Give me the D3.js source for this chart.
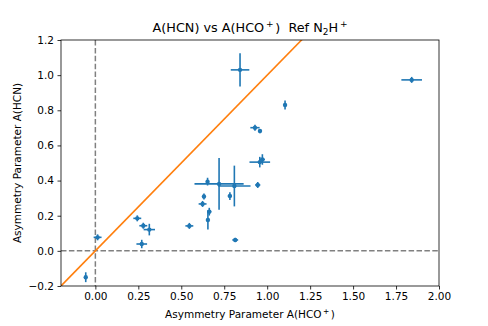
<!DOCTYPE html>
<html>
<head>
<meta charset="utf-8">
<script src="https://cdn.jsdelivr.net/npm/d3@7"></script>
<style>
  body { margin: 0; background: #fff; }
  text { font-family: "DejaVu Sans", sans-serif; fill: #000; white-space: pre; }
</style>
</head>
<body>
<div id="chartspace"></div>
<script>
// A(HCO+) values and errors
var ax = [0.013, -0.056, 0.27, 0.244, 0.279, 0.314, 0.547, 0.624, 0.632, 0.663, 0.655, 0.653,
          0.72, 0.809, 0.783, 0.814, 0.945, 0.957, 0.972, 0.842, 1.104, 0.929, 0.958, 1.841];
var axErr = [0.023, 0.006, 0.031, 0.023, 0.023, 0.033, 0.023, 0.023, 0.01, 0.012, 0.006, 0.008,
             0.143, 0.094, 0.012, 0.017, 0.015, 0.06, 0.015, 0.054, 0.008, 0.027, 0.01, 0.06];
// A(HCN) values and errors
var ay = [0.077, -0.15, 0.039, 0.185, 0.143, 0.121, 0.142, 0.267, 0.309, 0.223, 0.176, 0.394,
          0.381, 0.369, 0.312, 0.062, 0.375, 0.505, 0.52, 1.03, 0.83, 0.701, 0.682, 0.973];
var ayErr = [0.017, 0.028, 0.024, 0.017, 0.017, 0.033, 0.017, 0.017, 0.017, 0.022, 0.055, 0.022,
             0.147, 0.116, 0.022, 0.012, 0.017, 0.03, 0.03, 0.095, 0.025, 0.017, 0.012, 0.017];

var xTicks = [0, 0.25, 0.5, 0.75, 1.0, 1.25, 1.5, 1.75, 2.0];
var yTicks = [-0.2, 0, 0.2, 0.4, 0.6, 0.8, 1.0, 1.2];

var data = ax.map(function (d, i) {
    return { x: d, y: ay[i], xe: axErr[i], ye: ayErr[i] };
});

var W = 488, H = 326;
var margin = { top: 40, right: 49, bottom: 40, left: 61 },
    width = W - margin.left - margin.right,
    height = H - margin.top - margin.bottom;

var x = d3.scaleLinear().domain([-0.2, 2.0]).range([0, width]);
var y = d3.scaleLinear().domain([-0.2, 1.2]).range([height, 0]);

var blue = "#1f77b4", orange = "#ff7f0e";
var minus = function (s) { return s.replace("-", "\u2212"); };

var svg = d3.select("#chartspace").append("svg")
    .attr("width", W)
    .attr("height", H);

svg.append("defs").append("clipPath").attr("id", "clip")
    .append("rect").attr("width", width).attr("height", height);

var g = svg.append("g")
    .attr("transform", "translate(" + margin.left + "," + margin.top + ")");

var plot = g.append("g").attr("clip-path", "url(#clip)");

// reference lines at zero
plot.append("line")
    .attr("x1", x(0)).attr("x2", x(0))
    .attr("y1", 0).attr("y2", height)
    .attr("stroke", "#808080").attr("stroke-width", 1.5)
    .attr("stroke-dasharray", "5.5,2.4");
plot.append("line")
    .attr("x1", 0).attr("x2", width)
    .attr("y1", y(0)).attr("y2", y(0))
    .attr("stroke", "#808080").attr("stroke-width", 1.5)
    .attr("stroke-dasharray", "5.5,2.4");

// error bars
var pts = plot.selectAll(".pt").data(data).enter().append("g").attr("class", "pt");
pts.append("line")
    .attr("x1", function (d) { return x(d.x - d.xe); })
    .attr("x2", function (d) { return x(d.x + d.xe); })
    .attr("y1", function (d) { return y(d.y); })
    .attr("y2", function (d) { return y(d.y); })
    .attr("stroke", blue).attr("stroke-width", 1.6);
pts.append("line")
    .attr("x1", function (d) { return x(d.x); })
    .attr("x2", function (d) { return x(d.x); })
    .attr("y1", function (d) { return y(d.y - d.ye); })
    .attr("y2", function (d) { return y(d.y + d.ye); })
    .attr("stroke", blue).attr("stroke-width", 1.6);
pts.append("circle")
    .attr("cx", function (d) { return x(d.x); })
    .attr("cy", function (d) { return y(d.y); })
    .attr("r", 2.2)
    .attr("fill", blue);

// one-to-one line
plot.append("line")
    .attr("x1", x(-0.2)).attr("y1", y(-0.2))
    .attr("x2", x(1.4)).attr("y2", y(1.4))
    .attr("stroke", orange).attr("stroke-width", 1.6);

// axes
var xAxis = g.append("g")
    .attr("transform", "translate(0," + height + ")")
    .call(d3.axisBottom(x).tickValues(xTicks).tickFormat(function (d) { return minus(d3.format(".2f")(d)); })
        .tickSizeInner(3.5).tickSizeOuter(0).tickPadding(3.5));
var yAxis = g.append("g")
    .call(d3.axisLeft(y).tickValues(yTicks).tickFormat(function (d) { return minus(d3.format(".1f")(d)); })
        .tickSizeInner(3.5).tickSizeOuter(0).tickPadding(3.5));
[xAxis, yAxis].forEach(function (a) {
    a.selectAll("text").style("font-size", "10.5px").style("font-family", "DejaVu Sans");
    a.selectAll("line").attr("stroke", "#000").attr("stroke-width", 0.8);
    a.select(".domain").remove();
});

g.append("rect")
    .attr("width", width).attr("height", height)
    .attr("fill", "none").attr("stroke", "#000").attr("stroke-width", 0.8);

// title
var title = svg.append("text")
    .attr("x", margin.left + width / 2).attr("y", 32)
    .attr("text-anchor", "middle")
    .style("font-size", "12.8px");
title.append("tspan").text("A(HCN) vs A(HCO");
title.append("tspan").attr("dy", -5).style("font-size", "9px").text("\u2009+\u2009");
title.append("tspan").attr("dy", 5).text(")  Ref N");
title.append("tspan").attr("dy", 3).style("font-size", "9px").text("2");
title.append("tspan").attr("dy", -3).text("H");
title.append("tspan").attr("dy", -5).style("font-size", "9px").text("\u2009+");

// axis labels
var xl = svg.append("text")
    .attr("x", margin.left + width / 2).attr("y", 318)
    .attr("text-anchor", "middle")
    .style("font-size", "10.5px");
xl.append("tspan").text("Asymmetry Parameter A(HCO");
xl.append("tspan").attr("dy", -4).style("font-size", "7.5px").text("\u2009+\u2009");
xl.append("tspan").attr("dy", 4).text(")");

svg.append("text")
    .attr("transform", "translate(21," + (margin.top + height / 2) + ") rotate(-90)")
    .attr("text-anchor", "middle")
    .style("font-size", "10.5px")
    .text("Asymmetry Parameter A(HCN)");
</script>
</body>
</html>
